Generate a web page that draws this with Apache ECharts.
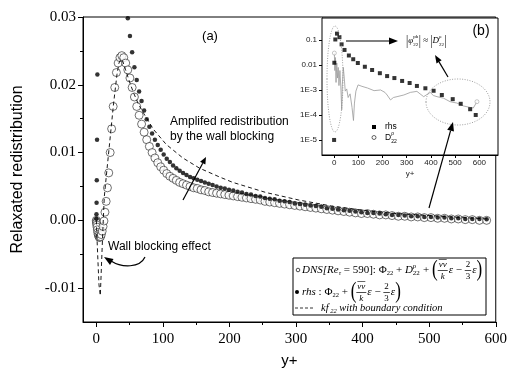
<!DOCTYPE html>
<html>
<head>
<meta charset="utf-8">
<script src="https://cdn.jsdelivr.net/npm/echarts@6/dist/echarts.min.js"></script>
<style>
  html, body { margin: 0; padding: 0; background: #fff; }
  #chart { width: 510px; height: 374px; }
</style>
</head>
<body>
<div id="chart"></div>
<script>
// ---- wall-normal grid (y+) shared by the DNS and rhs profiles ----
const gridYplus = [0, 0.2, 0.4, 0.7, 1.1, 1.6, 2.2, 2.8, 3.6, 4.4,
  5.4, 6.4, 7.5, 8.8, 10.1, 11.5, 13.0, 14.8, 16.7, 18.7,
  20.8, 23.0, 25.3, 27.7, 30.2, 32.8, 35.5, 38.3, 41.2, 44.2,
  47.3, 50.5, 53.8, 57.2, 60.7, 64.3, 68.0, 71.8, 75.7, 79.7,
  83.8, 88.0, 92.3, 96.7, 101.2, 105.8, 110.5, 115.3, 120.2, 125.2,
  130.3, 135.5, 140.8, 146.2, 151.7, 157.3, 163.0, 168.8, 174.7, 180.7,
  186.8, 193.0, 199.3, 205.7, 212.2, 218.8, 225.5, 232.3, 239.2, 246.2,
  253.3, 260.5, 267.8, 275.2, 282.7, 290.3, 298.0, 305.8, 313.7, 321.7,
  329.8, 338.0, 346.3, 354.7, 363.2, 371.8, 380.5, 389.3, 398.2, 407.2,
  416.3, 425.5, 434.8, 444.2, 453.7, 463.3, 473.0, 482.8, 492.7, 502.7,
  512.8, 523.0, 533.3, 543.7, 554.2, 564.8, 575.5, 586.3];

// DNS [Re_tau = 590]: Phi22 + D22 + (vv/k eps - 2/3 eps)
const dnsValue = [0.0000, -0.0002, -0.0004, -0.0007, -0.0010, -0.0014, -0.0018, -0.0021, -0.0023, -0.0025,
  -0.0025, -0.0024, -0.0021, -0.0016, -0.0009, -0.0001, 0.0012, 0.0028, 0.0048, 0.0070,
  0.0100, 0.0135, 0.0168, 0.0196, 0.0218, 0.0232, 0.0240, 0.0243, 0.0240, 0.0232,
  0.0222, 0.0210, 0.0196, 0.0182, 0.0168, 0.0155, 0.0142, 0.0130, 0.0119, 0.0109,
  0.0100, 0.0092, 0.0085, 0.0079, 0.0074, 0.0069, 0.0065, 0.0062, 0.0059, 0.0056,
  0.0054, 0.0052, 0.0050, 0.0048, 0.0047, 0.0045, 0.0044, 0.0042, 0.0041, 0.0040,
  0.0039, 0.0038, 0.0037, 0.0036, 0.0035, 0.0034, 0.0033, 0.0032, 0.0031, 0.0030,
  0.0028, 0.0027, 0.0026, 0.0025, 0.0024, 0.0023, 0.0022, 0.0021, 0.0020, 0.0019,
  0.0018, 0.0017, 0.0016, 0.0015, 0.0014, 0.0013, 0.0012, 0.0011, 0.0010, 0.0010,
  0.0009, 0.0008, 0.0008, 0.0007, 0.0006, 0.0006, 0.0005, 0.0005, 0.0004, 0.0004,
  0.0003, 0.0003, 0.0002, 0.0002, 0.0001, 0.0001, 0.0000, 0.0000];

// rhs: Phi22 + (vv/k eps - 2/3 eps)
const rhsValue = [0.00025, 0.0009, 0.0026, 0.0059, 0.0119, 0.0215, 0.036, 0.05, 0.07, 0.09,
  0.11, 0.13, 0.15, 0.165, 0.175, 0.18, 0.18, 0.175, 0.165, 0.155,
  0.14, 0.125, 0.105, 0.09, 0.075, 0.063, 0.053, 0.045, 0.039, 0.034,
  0.0298, 0.0272, 0.0248, 0.0226, 0.0207, 0.0190, 0.0176, 0.0162, 0.0149, 0.0138,
  0.0128, 0.0119, 0.0111, 0.0104, 0.0097, 0.0091, 0.0086, 0.0081, 0.0077, 0.0073,
  0.0070, 0.0067, 0.0064, 0.0062, 0.0060, 0.0058, 0.0056, 0.0054, 0.0052, 0.0050,
  0.0048, 0.0047, 0.0045, 0.0044, 0.0042, 0.0041, 0.0039, 0.0038, 0.0036, 0.0035,
  0.0033, 0.0032, 0.0031, 0.0029, 0.0028, 0.0027, 0.0025, 0.0024, 0.0023, 0.0022,
  0.0021, 0.0020, 0.0018, 0.0017, 0.0016, 0.0015, 0.0014, 0.0013, 0.0012, 0.0011,
  0.0011, 0.0010, 0.0009, 0.0008, 0.0008, 0.0007, 0.0006, 0.0006, 0.0005, 0.0005,
  0.0004, 0.0004, 0.0003, 0.0003, 0.0002, 0.0002, 0.0002, 0.00015];

// kf22 with boundary condition (dashed curve)
const kfYplus = [0, 2, 4, 6, 8, 10, 12, 14, 16, 21, 26, 31, 34, 37, 40, 44, 50, 56, 63, 71,
  86, 105, 130, 155, 185, 205, 255, 304, 354, 400, 450, 500, 550, 590];
const kfValue = [0.0000, -0.0050, -0.0095, -0.0111, -0.0060, -0.0010, 0.0035, 0.0055, 0.0075, 0.0124,
  0.0173, 0.0215, 0.0232, 0.0238, 0.0234, 0.0222, 0.0204, 0.0188, 0.0172, 0.0158,
  0.0134, 0.0112, 0.0092, 0.0077, 0.0064, 0.0056, 0.0041, 0.0030, 0.0021, 0.0015,
  0.0010, 0.0007, 0.0004, 0.0002];

// inset (b): |rhs| and |D22| on a log scale
const insetRhsYplus = [0, 1, 5, 12, 22, 31, 43, 61, 79, 98, 127, 157, 189, 219, 249, 281, 312, 342, 377, 411, 445, 490, 523, 562, 585];
const insetRhsValue = [1e-5, 0.0123, 0.105, 0.18, 0.13, 0.067, 0.04, 0.024, 0.017, 0.012, 0.0085, 0.0063, 0.0047, 0.0036, 0.0030, 0.0023, 0.0019, 0.00145, 0.00117, 0.00093, 0.00063, 0.00043, 0.00028, 0.00017, 0.0001];
const insetDYplus = [1, 3, 5, 8, 11, 14, 17, 20, 24, 28, 31, 31.5, 34, 38, 42, 46, 52, 58, 66, 74,
  80, 84, 90, 99, 115, 138, 165, 192, 210, 219, 233, 245, 260, 288, 315, 342, 355, 370, 397, 410,
  425, 452, 479, 507, 534, 562, 575, 590];
const insetDValue = [0.03, 0.006, 0.02, 0.002, 0.012, 0.003, 0.008, 0.0015, 0.006, 0.0012,
  0.0013, 0.00016, 0.0016, 0.008, 0.003, 0.0009, 0.0011, 0.0005, 0.0007, 0.0002,
  0.00006, 0.0003, 0.0009, 0.0016, 0.0014, 0.0012, 0.00094, 0.001, 0.0008, 0.00063,
  0.0004, 0.0005, 0.00054, 0.00063, 0.0008, 0.00088, 0.0007, 0.00054, 0.0008, 0.0006,
  0.00054, 0.00047, 0.00034, 0.0003, 0.00023, 0.0002, 0.00019, 0.00034];

// ticks
const xTicks = [0, 100, 200, 300, 400, 500, 600];
const xMinorTicks = [50, 150, 250, 350, 450, 550];
const yTicks = [-0.01, 0.00, 0.01, 0.02, 0.03];
const yMinorTicks = [-0.005, 0.005, 0.015, 0.025];
const insetXTicks = [0, 100, 200, 300, 400, 500, 600];
const insetYTicks = [1e-5, 1e-4, 1e-3, 0.01, 0.1];

const SERIF = '"Liberation Serif", "Times New Roman", serif';
const SANS = '"Liberation Sans", Arial, sans-serif';

const zip = (xs, ys) => xs.map((x, i) => [x, ys[i]]);

// ---- helpers for drawn annotations ----
const mctx = document.createElement('canvas').getContext('2d');
function measure(t, font) { mctx.font = font; return mctx.measureText(t).width; }
function fnt(size, italic, fam) { return (italic ? 'italic ' : '') + size + 'px ' + (fam || SERIF); }
function textEl(x, y, text, font, align, extra) {
  return Object.assign({ type: 'text', x: x, y: y, z: 100, silent: true,
    style: { text: text, font: font, fill: '#000', align: align || 'left', verticalAlign: 'middle' } }, extra || {});
}
function lineEl(x1, y1, x2, y2, w, color, dash) {
  return { type: 'line', z: 100, silent: true, shape: { x1: x1, y1: y1, x2: x2, y2: y2 },
    style: { stroke: color || '#000', lineWidth: w || 1, lineDash: dash || null } };
}
function arrow(x1, y1, x2, y2, len, half) {
  const dx = x2 - x1, dy = y2 - y1, L = Math.hypot(dx, dy);
  const ux = dx / L, uy = dy / L;
  const bx = x2 - ux * len, by = y2 - uy * len;
  return [
    lineEl(x1, y1, bx, by, 1.2),
    { type: 'polygon', z: 100, silent: true,
      shape: { points: [[x2, y2], [bx - uy * half, by + ux * half], [bx + uy * half, by - ux * half]] },
      style: { fill: '#000' } }
  ];
}
// lays out a short formula from tokens, returns end x
function layoutMath(x, y, tokens, els, base, fam) {
  base = base || 10;
  for (const tk of tokens) {
    if (tk.frac) {
      const f = fnt(base - 2, tk.it, fam);
      const wn = measure(tk.frac[0], f), wd = measure(tk.frac[1], f);
      const w = Math.max(wn, wd) + 2;
      els.push(textEl(x + w / 2, y - 5.5, tk.frac[0], f, 'center'));
      els.push(textEl(x + w / 2, y + 6.5, tk.frac[1], f, 'center'));
      els.push(lineEl(x, y + 0.5, x + w, y + 0.5, 0.7));
      if (tk.bar) els.push(lineEl(x + w / 2 - wn / 2, y - 10.5, x + w / 2 + wn / 2, y - 10.5, 0.6));
      x += w + 1;
    } else if (tk.paren) {
      const f = fnt(tk.ps || base + 6, false, SERIF);
      els.push(textEl(x, y, tk.paren, f, 'left', { scaleY: tk.sy || 1.35 }));
      x += measure(tk.paren, f);
    } else if (tk.ss) {
      const f = fnt(Math.round(base * 0.6), false, fam);
      els.push(textEl(x, y + 3.5, tk.ss[0], f));
      els.push(textEl(x, y - 4, tk.ss[1], f));
      x += Math.max(measure(tk.ss[0], f), measure(tk.ss[1], f)) + 0.5;
    } else {
      const f = fnt(tk.s || base, tk.it, fam);
      els.push(textEl(x, y + (tk.dy || 0), tk.t, f));
      x += measure(tk.t, f);
    }
  }
  return x;
}

const g = [];
// legend box
g.push({ type: 'rect', z: 99, silent: true, shape: { x: 293, y: 258, width: 193, height: 57 },
  style: { fill: '#fff', stroke: '#000', lineWidth: 1 } });
g.push({ type: 'circle', z: 100, silent: true, shape: { cx: 298, cy: 270, r: 1.8 }, style: { fill: '#fff', stroke: '#000', lineWidth: 0.7 } });
layoutMath(302, 270, [
  { t: 'DNS[', it: true }, { t: 'Re', it: true }, { t: 'τ', s: 6.5, dy: 3, it: true }, { t: ' = 590]: ' },
  { t: 'Φ' }, { t: '22', s: 6.5, dy: 3 }, { t: ' + ' }, { t: 'D', it: true }, { ss: ['22', 'ρ'] }, { t: ' + ' },
  { paren: '(' }, { frac: ['vv', 'k'], it: true, bar: true }, { t: 'ε', it: true }, { t: ' − ' },
  { frac: ['2', '3'] }, { t: 'ε', it: true }, { paren: ')' }
], g, 11);
g.push({ type: 'circle', z: 100, silent: true, shape: { cx: 297, cy: 292, r: 2 }, style: { fill: '#000' } });
layoutMath(302, 292, [
  { t: 'rhs', it: true }, { t: ' : ' }, { t: 'Φ' }, { t: '22', s: 6.5, dy: 3 }, { t: ' + ' },
  { paren: '(' }, { frac: ['vv', 'k'], it: true, bar: true }, { t: 'ε', it: true }, { t: ' − ' },
  { frac: ['2', '3'] }, { t: 'ε', it: true }, { paren: ')' }
], g, 11);
g.push(lineEl(295, 308, 313, 308, 0.8, '#000', [3, 2]));
layoutMath(321, 308, [
  { t: 'kf', it: true }, { t: ' 22', s: 6.5, dy: 3, it: true }, { t: ' with boundary condition', it: true }
], g, 10.5);

// panel labels and notes
g.push(textEl(210, 36, '(a)', fnt(13, false, SANS), 'center'));
g.push(textEl(481, 31, '(b)', fnt(14, false, SANS), 'center'));
g.push(textEl(170, 122, 'Amplifed redistribution', fnt(12, false, SANS)));
g.push(textEl(170, 137, 'by the wall blocking', fnt(12, false, SANS)));
g.push(textEl(108, 247, 'Wall blocking effect', fnt(12, false, SANS)));
g.push(...arrow(183, 200, 206, 157, 7, 3));
g.push({ type: 'bezierCurve', z: 100, silent: true,
  shape: { x1: 145, y1: 257, cpx1: 140, cpy1: 268, cpx2: 122, cpy2: 268, x2: 111, y2: 261 },
  style: { stroke: '#000', lineWidth: 1.2, fill: null } });
g.push({ type: 'polygon', z: 100, silent: true, shape: { points: [[104, 257], [113.5, 259], [110, 265]] }, style: { fill: '#000' } });

// inset notes
g.push({ type: 'ellipse', z: 100, silent: true, shape: { cx: 335, cy: 79, rx: 8, ry: 53 },
  style: { fill: null, stroke: '#888', lineWidth: 0.8, lineDash: [1, 1.5] } });
g.push({ type: 'ellipse', z: 100, silent: true, shape: { cx: 458, cy: 102, rx: 32, ry: 23 },
  style: { fill: null, stroke: '#888', lineWidth: 0.8, lineDash: [1, 1.5] } });
g.push(...arrow(346, 41, 398, 41, 9, 3.5));
g.push(...arrow(448, 77, 435, 55, 8, 3));
g.push(...arrow(429, 208, 453, 122, 9, 3.5));
layoutMath(406, 41, [
  { paren: '|', ps: 11, sy: 1.3 }, { t: 'φ', it: true }, { ss: ['22', 'ph'] }, { paren: '|', ps: 11, sy: 1.3 },
  { t: ' ≈ ' }, { paren: '|', ps: 11, sy: 1.3 }, { t: 'D', it: true }, { ss: ['22', 'ρ'] }, { paren: '|', ps: 11, sy: 1.3 }
], g, 9);
// inset legend
g.push({ type: 'rect', z: 100, silent: true, shape: { x: 372, y: 125, width: 4, height: 4 }, style: { fill: '#000' } });
g.push(textEl(385, 127, 'rhs', fnt(8.5, false, SANS)));
g.push({ type: 'circle', z: 100, silent: true, shape: { cx: 374, cy: 137.5, r: 2 }, style: { fill: '#fff', stroke: '#000', lineWidth: 0.6 } });
layoutMath(385, 138, [{ t: 'D' }, { ss: ['22', 'ρ'] }], g, 8.5, SANS);

const axisLineBlack = { show: true, onZero: false, lineStyle: { color: '#000', width: 1 } };
const noLine = { show: false, onZero: false };

const option = {
  animation: false,
  backgroundColor: '#fff',
  grid: [
    { left: 83, right: 12, top: 17, bottom: 52, show: true, borderColor: '#000', borderWidth: 1, backgroundColor: 'transparent' },
    { left: 322, right: 12, top: 18, bottom: 219, show: true, borderColor: '#000', borderWidth: 1, backgroundColor: '#fff', z: 5 }
  ],
  xAxis: [
    { type: 'value', gridIndex: 0, min: -20, max: 600, position: 'bottom',
      axisLine: axisLineBlack, splitLine: { show: false },
      axisTick: { show: true, inside: false, length: 5, customValues: xTicks, lineStyle: { color: '#000' } },
      axisLabel: { customValues: xTicks, color: '#000', fontFamily: SERIF, fontSize: 15, margin: 10 },
      name: 'y+', nameLocation: 'middle', nameGap: 31,
      nameTextStyle: { fontFamily: SANS, fontSize: 15, color: '#000' } },
    { type: 'value', gridIndex: 0, min: -20, max: 600, position: 'bottom',
      axisLine: noLine, splitLine: { show: false }, axisLabel: { show: false },
      axisTick: { show: true, length: 3, customValues: xMinorTicks, lineStyle: { color: '#000' } } },
    { type: 'value', gridIndex: 1, min: -50, max: 677, position: 'bottom',
      axisLine: axisLineBlack, splitLine: { show: false },
      axisTick: { show: true, length: 3, customValues: insetXTicks, lineStyle: { color: '#000' } },
      axisLabel: { customValues: insetXTicks, color: '#222', fontFamily: SANS, fontSize: 8, margin: 4 },
      name: 'y+', nameLocation: 'middle', nameGap: 15,
      nameTextStyle: { fontFamily: SANS, fontSize: 8, color: '#222' } }
  ],
  yAxis: [
    { type: 'value', gridIndex: 0, min: -0.015, max: 0.03, position: 'left',
      axisLine: axisLineBlack, splitLine: { show: false },
      axisTick: { show: true, length: 5, customValues: yTicks, lineStyle: { color: '#000' } },
      axisLabel: { customValues: yTicks, color: '#000', fontFamily: SERIF, fontSize: 15, margin: 7,
        formatter: v => (Math.abs(v) < 1e-9 ? '0.00' : v.toFixed(2)) },
      name: 'Relaxated redistribution', nameLocation: 'middle', nameGap: 57,
      nameTextStyle: { fontFamily: SANS, fontSize: 16, color: '#000' } },
    { type: 'value', gridIndex: 0, min: -0.015, max: 0.03, position: 'left',
      axisLine: noLine, splitLine: { show: false }, axisLabel: { show: false },
      axisTick: { show: true, length: 3, customValues: yMinorTicks, lineStyle: { color: '#000' } } },
    { type: 'log', gridIndex: 1, min: 2.5e-6, max: 0.76, logBase: 10, position: 'left',
      axisLine: axisLineBlack, splitLine: { show: false },
      axisTick: { show: true, length: 3, customValues: insetYTicks, lineStyle: { color: '#000' } },
      axisLabel: { customValues: insetYTicks, color: '#222', fontFamily: SANS, fontSize: 8, margin: 5,
        formatter: v => { const e = Math.round(Math.log10(v)); return e === -1 ? '0.1' : e === -2 ? '0.01' : '1E' + e; } } }
  ],
  series: [
    { name: 'DNS', type: 'scatter', xAxisIndex: 0, yAxisIndex: 0, clip: true, z: 2,
      symbol: 'circle', symbolSize: 8,
      itemStyle: { color: '#fff', borderColor: '#000', borderWidth: 0.7 },
      data: zip(gridYplus, dnsValue) },
    { name: 'rhs', type: 'scatter', xAxisIndex: 0, yAxisIndex: 0, clip: true, z: 3,
      symbol: 'circle', symbolSize: 4.5, itemStyle: { color: '#000' },
      data: zip(gridYplus, rhsValue) },
    { name: 'kf22', type: 'line', xAxisIndex: 0, yAxisIndex: 0, clip: true, z: 4,
      symbol: 'none', lineStyle: { color: '#000', width: 0.9, type: [4, 3] },
      data: zip(kfYplus, kfValue) },
    { name: 'D22 (inset)', type: 'line', xAxisIndex: 2, yAxisIndex: 2, clip: true, z: 6,
      symbol: 'none', lineStyle: { color: '#999', width: 0.8 },
      data: zip(insetDYplus, insetDValue) },
    { name: 'D22 ends (inset)', type: 'scatter', xAxisIndex: 2, yAxisIndex: 2, z: 7,
      symbol: 'circle', symbolSize: 4, itemStyle: { color: '#fff', borderColor: '#888', borderWidth: 0.6 },
      data: [[insetDYplus[0], insetDValue[0]], [insetDYplus[insetDYplus.length - 1], insetDValue[insetDValue.length - 1]]] },
    { name: 'rhs (inset)', type: 'scatter', xAxisIndex: 2, yAxisIndex: 2, clip: true, z: 8,
      symbol: 'rect', symbolSize: 4, itemStyle: { color: '#000' },
      data: zip(insetRhsYplus, insetRhsValue) }
  ],
  graphic: { elements: g }
};

const chart = echarts.init(document.getElementById('chart'), null, { renderer: 'canvas' });
chart.setOption(option);
</script>
</body>
</html>
